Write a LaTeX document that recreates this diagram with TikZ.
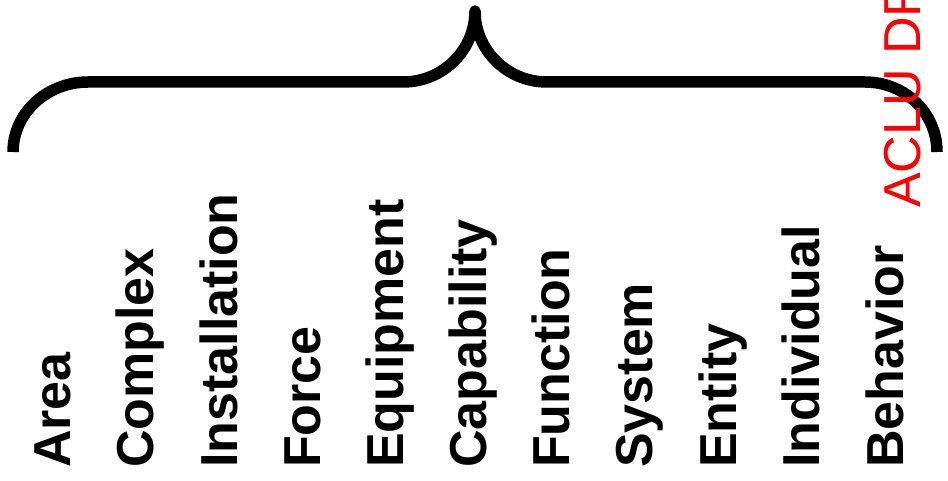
\documentclass[tikz,border=0pt]{standalone}
\usepackage{fontspec}
\usepackage{xcolor}
\setmainfont{Liberation Sans}
\definecolor{draftred}{RGB}{255,0,0}

\begin{document}
\begin{tikzpicture}[
  x=1pt, y=-1pt,
  wordlbl/.style={rotate=90, anchor=base west, inner sep=0pt, font=\bfseries\fontsize{52}{60}\selectfont},
  draftlbl/.style={rotate=90, anchor=base west, inner sep=0pt, text=draftred, font=\fontsize{52}{60}\selectfont},
  bracestroke/.style={line width=11.5pt, draw=black, line join=round, line cap=butt}
]
\useasboundingbox (0,0) rectangle (948,481);

\coordinate (braceL) at (13,152);
\coordinate (braceTip) at (475,11);
\coordinate (braceR) at (937,152);

\draw[bracestroke] (braceL) .. controls (13,113) and (47,82) .. (88,82)
  -- (403,82) .. controls (443,82) and (475,50) .. (braceTip)
  .. controls (475,50) and (507,82) .. (547,82)
  -- (865,82) .. controls (905,82) and (937,113) .. (braceR);

\node[wordlbl] (area) at (70,468) {Area};
\node[wordlbl] (complex) at (153,468) {Complex};
\node[wordlbl] (installation) at (237,468) {Installation};
\node[wordlbl] (force) at (320,468) {Force};
\node[wordlbl] (equipment) at (403,468) {Equipment};
\node[wordlbl] (capability) at (486,468) {Capability};
\node[wordlbl] (function) at (569,468) {Function};
\node[wordlbl] (system) at (652,468) {System};
\node[wordlbl] (entity) at (736,468) {Entity};
\node[wordlbl] (individual) at (819,468) {Individual};
\node[wordlbl] (behavior) at (903,468) {Behavior};

\node[draftlbl] (draft) at (920,208) {ACLU DRAFT};
\end{tikzpicture}
\end{document}
